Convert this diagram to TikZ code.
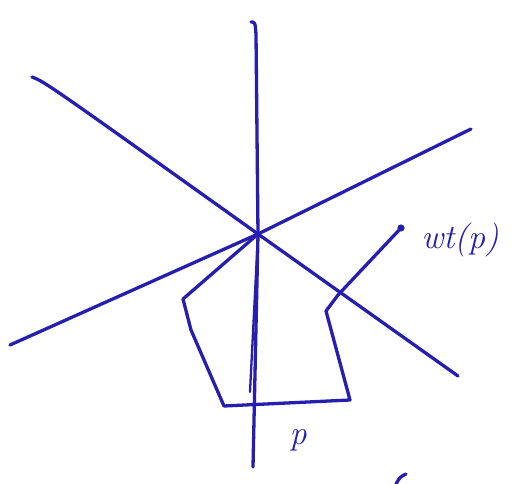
\documentclass[tikz,border=0pt]{standalone}
\usetikzlibrary{calc}
\definecolor{ink}{RGB}{38,30,175}
\begin{document}
\begin{tikzpicture}[x=1pt,y=-1pt,
  stroke/.style={draw=ink,line width=3.3pt,line cap=round,line join=round},
  thin stroke/.style={draw=ink,line width=2.3pt,line cap=round},
  lbl/.style={text=ink,font=\fontsize{34}{34}\selectfont\itshape,inner sep=0pt}]
\useasboundingbox (0,0) rectangle (517,484);
% named points
\coordinate (C) at (258,234);
\coordinate (vtop) at (251,22);
\coordinate (vbot) at (253,467);
\coordinate (dA) at (32,77);
\coordinate (dB) at (458,376);
\coordinate (aA) at (10,345);
\coordinate (aB) at (471,129);
\coordinate (p1) at (183,299);
\coordinate (p2) at (191,330);
\coordinate (p3) at (224,406);
\coordinate (p4) at (350,400);
\coordinate (p5) at (326,311);
\coordinate (p6) at (338,295);
\coordinate (w) at (401,228);
\coordinate (t) at (250,392);
% lines through centre
\draw[stroke] (vtop) .. controls (255,22) .. (256,34) -- (C) -- (vbot);
\draw[stroke] (dA) .. controls (45,82) .. (C) -- (dB);
\draw[stroke] (aA) -- (C) -- (aB);
% thin line
\draw[thin stroke] (C) -- (t);
% polygon and wt(p)
\draw[stroke] (C) -- (p1) -- (p2) -- (p3) -- (p4) -- (p5) -- (p6) -- (w);
\fill[ink] (w) circle (3.6pt);
\node[lbl] (wt) at (460,240) {wt(p)};
\node[lbl] (plab) at (298,440) {p};
% small stroke at bottom edge
\coordinate (s1) at (396,484);
\coordinate (s2) at (406,474);
\draw[stroke] (s1) .. controls (400,477) .. (s2);
\end{tikzpicture}
\end{document}
